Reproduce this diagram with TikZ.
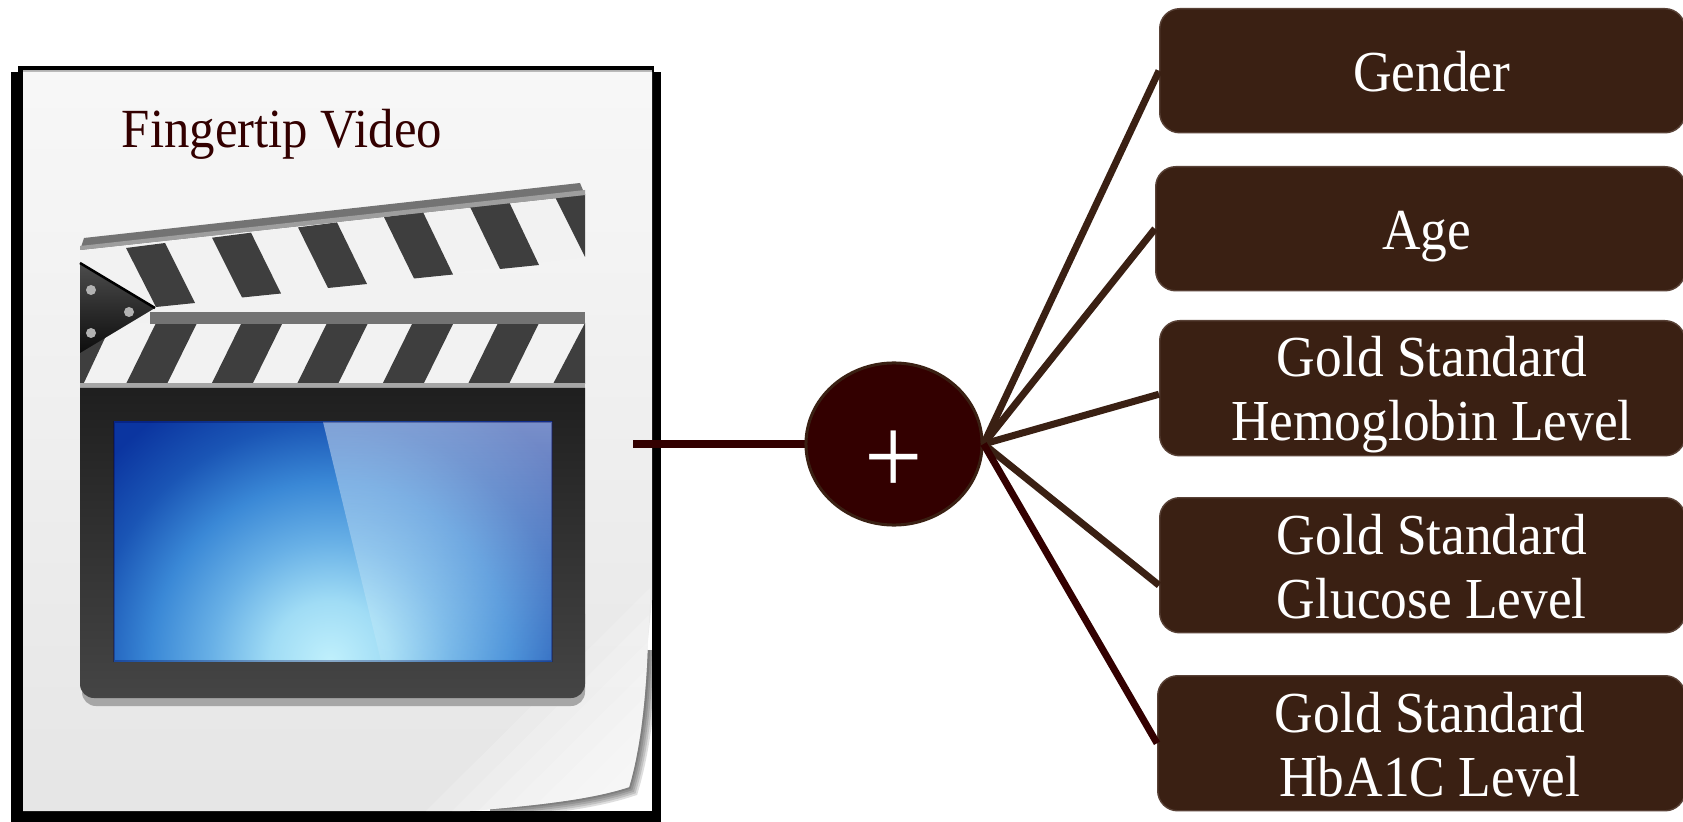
\documentclass[tikz,border=0pt]{standalone}
\usepackage{fontspec}
\setmainfont[FakeStretch=0.92]{Liberation Serif}
\usepackage{xcolor}
\usetikzlibrary{positioning, shapes.geometric, calc, fadings}

\definecolor{factbrown}{HTML}{3A2013}
\definecolor{hubred}{HTML}{330000}
\definecolor{stripegray}{HTML}{3E3E3E}
\definecolor{glowa}{HTML}{C0F0FC}
\definecolor{glowb}{HTML}{A0DCF5}
\definecolor{glowc}{HTML}{68B0E6}
\definecolor{glowd}{HTML}{3A88D6}
\definecolor{glowe}{HTML}{1A55B5}
\definecolor{glowf}{HTML}{0B35A0}

\pgfdeclareradialshading{screenglow}{\pgfpoint{0bp}{0bp}}{
  color(0bp)=(glowa); color(4.4bp)=(glowb); color(8.8bp)=(glowc);
  color(13.2bp)=(glowd); color(17.6bp)=(glowe); color(22bp)=(glowf); color(50bp)=(glowf)}
\tikzfading[name=glarefade, top color=transparent!55, bottom color=transparent!90]

\begin{document}
\begin{tikzpicture}[x=0.01cm, y=-0.01cm,
  fact/.style={draw=factbrown!85!white, fill=factbrown, rectangle, rounded corners=0.2cm, minimum width=5.25cm, anchor=north west, inner sep=0pt},
  facttext/.style={text=white, font=\fontsize{16.5}{18.2}\selectfont, align=center},
  hub/.style={draw=factbrown, line width=0.03cm, fill=hubred, ellipse, minimum width=1.76cm, minimum height=1.62cm, inner sep=0pt},
  link/.style={draw=factbrown, line width=0.07cm},
  darklink/.style={draw=hubred, line width=0.07cm},
  stripe/.style={fill=stripegray},
  rivet/.style={fill=gray!60}
]
\useasboundingbox (0,0) rectangle (1683,822);
\fill[white] (0,0) rectangle (1683,822);

% Video page
\fill[black] (18,66) rectangle (654,810);
\fill[black] (11,72) rectangle (661,822);
\fill[white] (23,71) rectangle (652,811);
\draw[gray!60, line width=0.02cm] (23,71) -- (652,71);
% Page curl
\foreach \w in {0.04,0.08,0.12,0.16,0.2}
  \draw[black, opacity=0.13, line width=\w cm] (648,650) .. controls (646,700) and (640,750) .. (629,787) .. controls (590,800) and (530,806) .. (490,808);
\shade[top color=white!97!black, bottom color=white!90!black] (23,72) -- (652,72) -- (652,600) -- (648,640) .. controls (646,700) and (640,750) .. (629,787) .. controls (590,800) and (530,806) .. (470,811) -- (23,811) -- cycle;
\begin{scope}
  \clip (400,811) -- (652,560) -- (648,640) .. controls (646,700) and (640,750) .. (629,787) .. controls (590,800) and (530,806) .. (470,811) -- cycle;
  \foreach \k in {1,...,8}
    \fill[white, opacity=0.17] ({400+26*\k},811) -- (652,{560+26*\k}) -- (652,811) -- cycle;
\end{scope}

% Clapper, top stick
\fill[white!95!black] (80,248) -- (585,195) -- (585,257) -- (156,307) -- (80,307) -- cycle;
\foreach \k in {0,...,4}
  \fill[stripe] ({126+86*\k},{248-10.3*\k}) -- ({165+86*\k},{243-10.3*\k}) -- ({195+86*\k},{303-9.5*\k}) -- ({156+86*\k},{307-9.5*\k}) -- cycle;
\fill[stripe] (555,197) -- (585,194) -- (585,257) -- cycle;
\fill[black!55] (84,238) -- (580,183) -- (585,195) -- (80,250) -- cycle;
\fill[black!38] (80,246) -- (585,190) -- (585,195) -- (80,250) -- cycle;

% Clapper, lower stick
\fill[white!95!black] (80,323) rectangle (585,387);
\fill[stripe] (80,323) -- (112,323) -- (82,387) -- (80,387) -- cycle;
\foreach \k in {0,...,4}
  \fill[stripe] ({156+85.5*\k},323) -- ({197+85.5*\k},323) -- ({167+85.5*\k},384) -- ({126+85.5*\k},384) -- cycle;
\fill[stripe] (585,323) -- (585,384) -- (553,384) -- cycle;
\fill[black!55] (150,312) rectangle (585,324);
\fill[black!35] (80,383) rectangle (585,388);

% Hinge
\shade[top color=black!70, bottom color=black!95] (80,263) -- (155,308) -- (80,353) -- cycle;
\draw[black, line width=0.025cm] (80,263) -- (155,308);
\fill[rivet] (91,290) circle (5);
\fill[rivet] (129,312) circle (5);
\fill[rivet] (91,333) circle (5);

% Slate and screen
\fill[gray!70, rounded corners=0.14cm] (82,600) -- (585,600) -- (585,706) -- (82,706) -- cycle;
\shade[top color=black!88, bottom color=black!73] (80,388) -- (585,388) [rounded corners=0.14cm] -- (585,698) -- (80,698) [sharp corners] -- cycle;
\begin{scope}
  \clip (114,422) rectangle (552,661);
  \shade[shading=screenglow] (330,661) circle (340);
  \fill[white, path fading=glarefade] (323,422) -- (552,422) -- (552,661) -- (381,661) -- cycle;
\end{scope}
\draw[black!70!blue, opacity=0.3, line width=0.02cm] (114,422) rectangle (552,661);
\node[text=hubred, font=\fontsize{15.7}{17}\selectfont] (title) at (282,134) {Fingertip Video};

% Facts
\node[fact, minimum height=1.24cm, label={[facttext, xshift=0.095cm, yshift=-0.01cm]center:Gender}] (gender) at (1159,8) {};
\node[fact, minimum height=1.24cm, minimum width=5.29cm, label={[facttext, xshift=0.065cm, yshift=-0.075cm]center:Age}] (age) at (1155,166) {};
\node[fact, minimum height=1.35cm, label={[facttext, xshift=0.095cm, yshift=-0.065cm]center:Gold Standard\\Hemoglobin Level}] (hemo) at (1159,320) {};
\node[fact, minimum height=1.35cm, label={[facttext, xshift=0.095cm, yshift=-0.015cm]center:Gold Standard\\Glucose Level}] (gluc) at (1159,497) {};
\node[fact, minimum height=1.35cm, minimum width=5.27cm, label={[facttext, xshift=0.085cm, yshift=-0.015cm]center:Gold Standard\\HbA1C Level}] (hba) at (1157,675) {};

% Hub
\coordinate (pageout) at (633,444);
\draw[darklink] (pageout) -- (806,444);
\node[hub] (sum) at (894,444) {};
\node[text=white, font=\fontsize{32}{32}\selectfont] (plus) at (894,463) {+};

\draw[link] (sum.east) -- (gender.west);
\draw[link] (sum.east) -- (age.west);
\draw[link] (sum.east) -- ([yshift=-0.06cm]hemo.west);
\draw[link] (sum.east) -- ([yshift=-0.2cm]gluc.west);
\draw[darklink] (sum.east) -- (hba.west);

\end{tikzpicture}
\end{document}
